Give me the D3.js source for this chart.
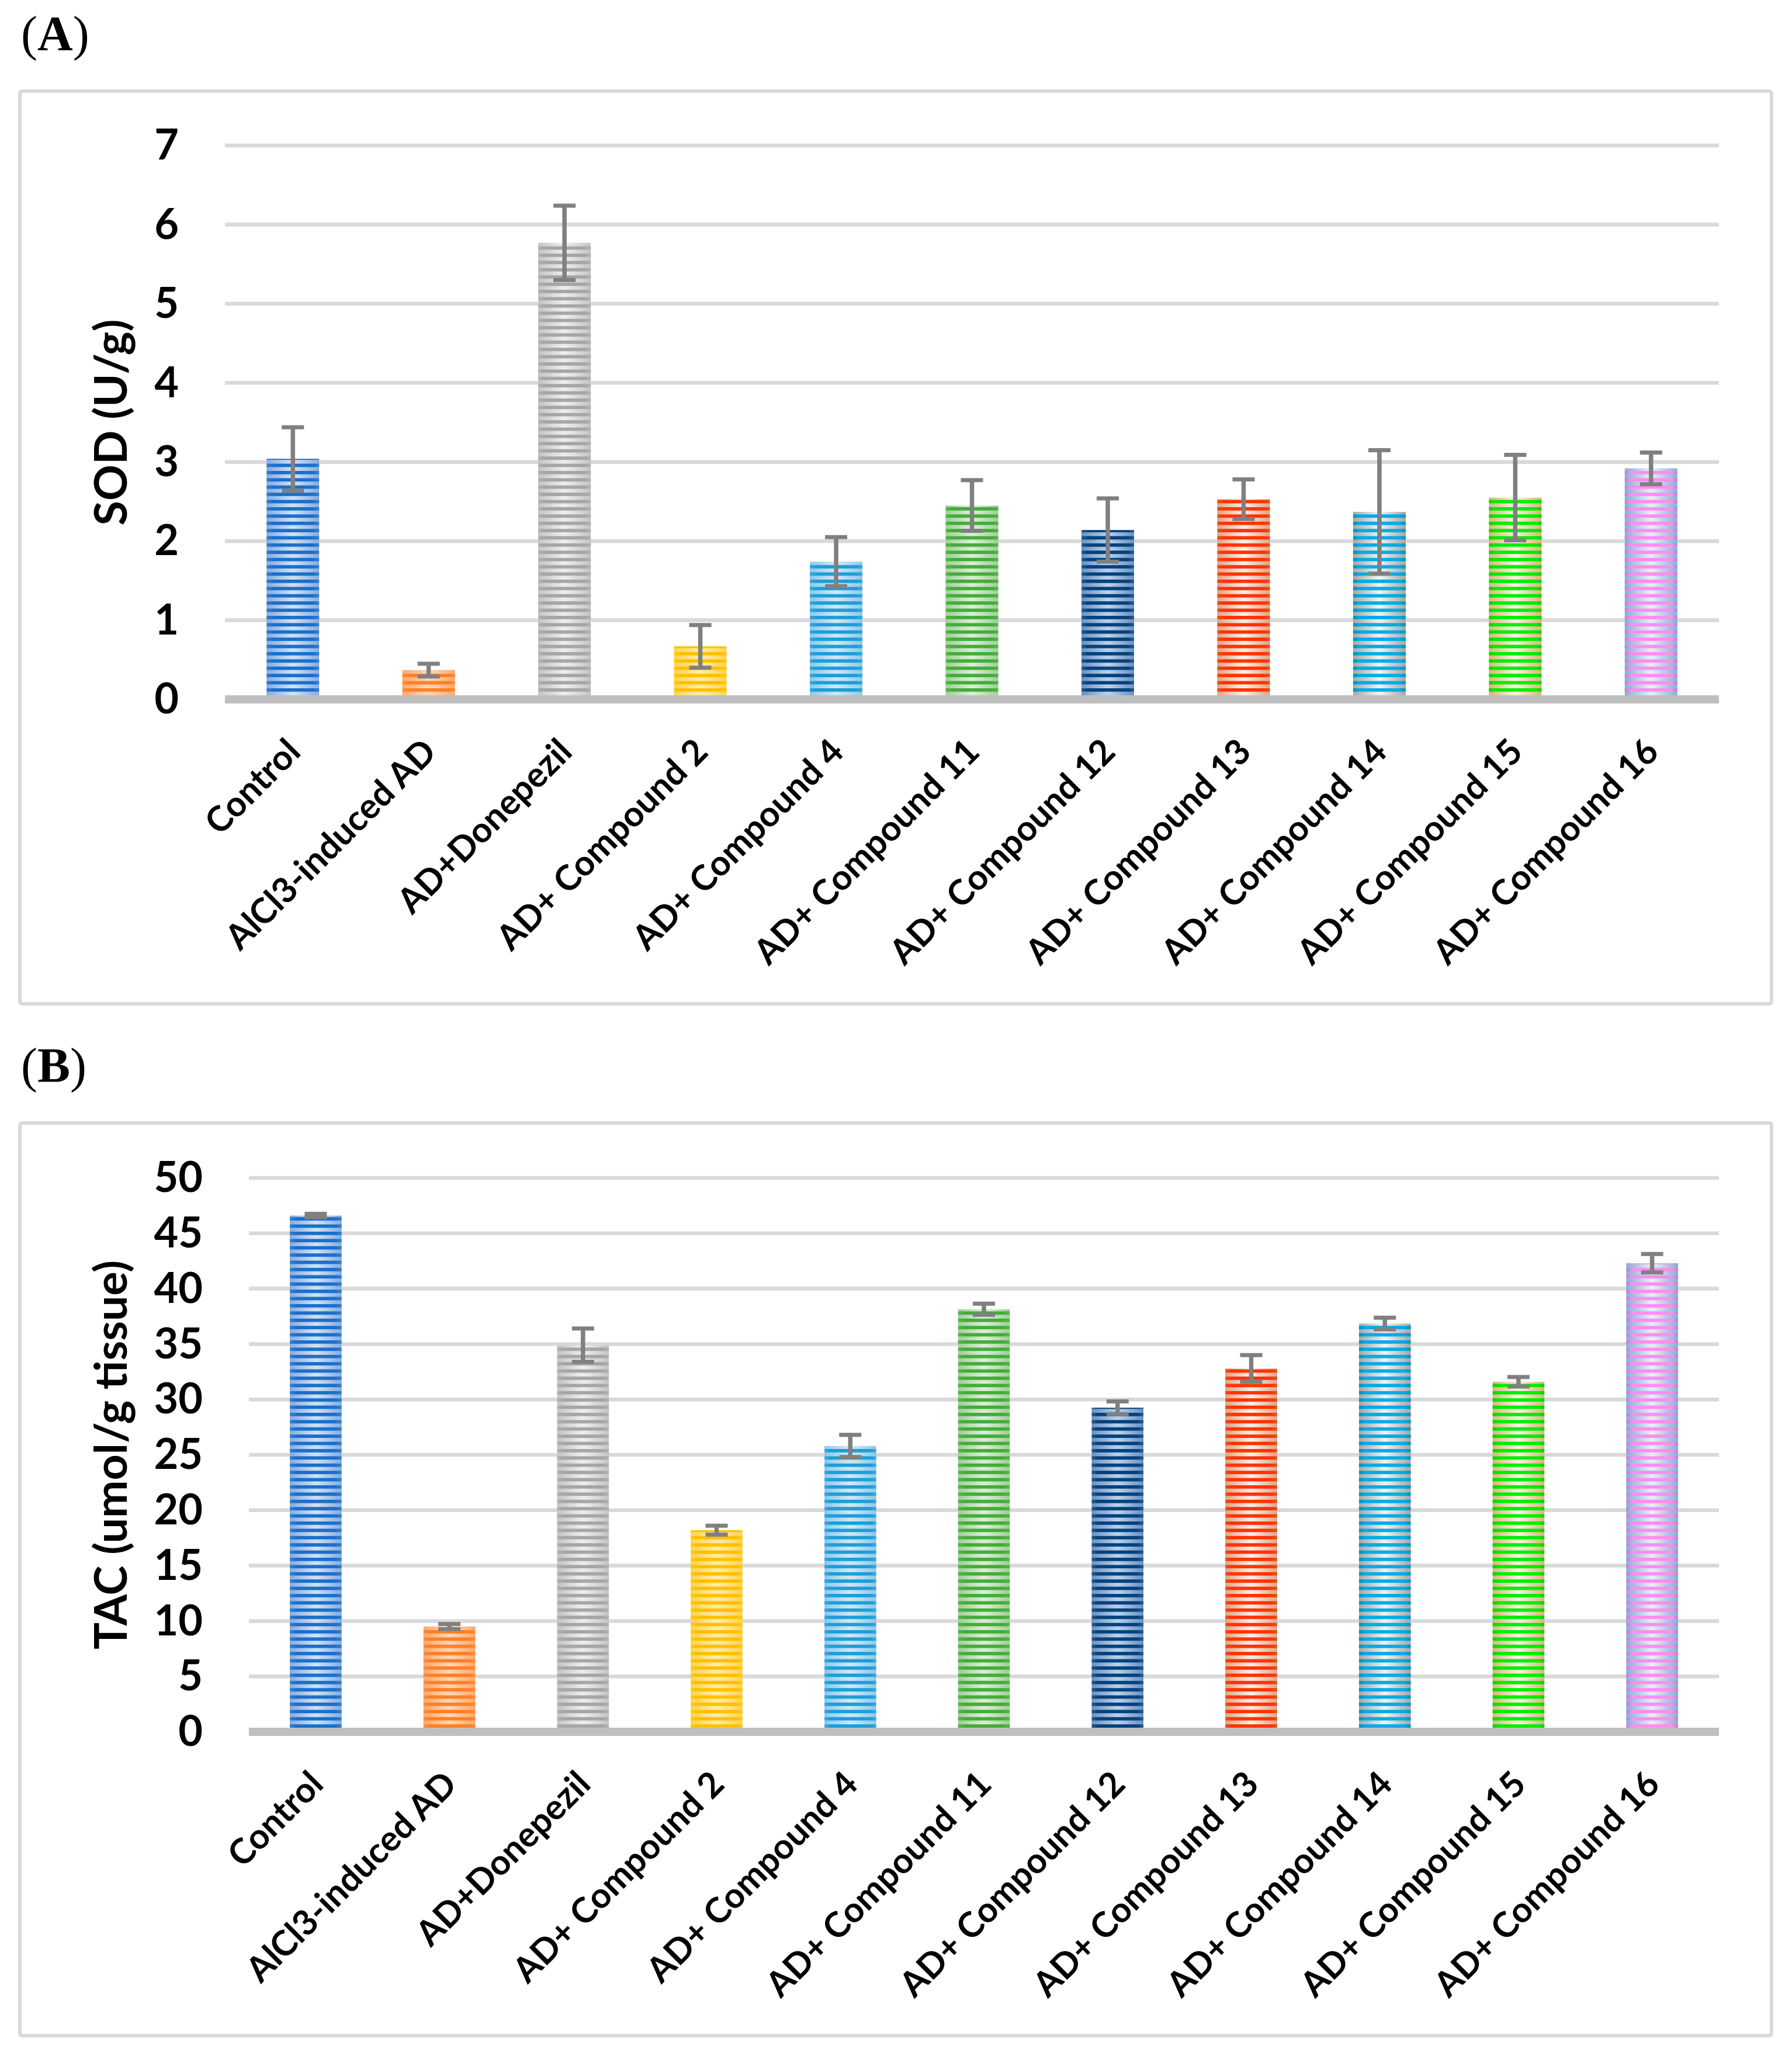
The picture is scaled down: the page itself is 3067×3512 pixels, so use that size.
<!DOCTYPE html>
<html>
<head>
<meta charset="utf-8">
<script src="https://cdn.jsdelivr.net/npm/d3@7.9.0/dist/d3.min.js"></script>
<style>
  body { margin: 0; background: #fff; }
  svg { display: block; }
  .tick text, .lbl, .ytitle { font-family: Lato, "Open Sans", sans-serif; font-weight: 700; fill: #000; }
</style>
</head>
<body>
<svg id="chart"></svg>
<script>
// group names along the x axis (same for both panels)
const groups = [
  "Control", "AlCl3-induced AD", "AD+Donepezil", "AD+ Compound 2", "AD+ Compound 4",
  "AD+ Compound 11", "AD+ Compound 12", "AD+ Compound 13", "AD+ Compound 14",
  "AD+ Compound 15", "AD+ Compound 16"
];

// panel A: SOD (U/g)
const sodValues = [3.04, 0.37, 5.77, 0.67, 1.74, 2.45, 2.14, 2.53, 2.37, 2.55, 2.92];
const sodErrors = [0.40, 0.08, 0.47, 0.27, 0.31, 0.32, 0.40, 0.25, 0.78, 0.54, 0.20];
const sodTicks = [0, 1, 2, 3, 4, 5, 6, 7];

// panel B: TAC (umol/g tissue)
const tacValues = [46.6, 9.5, 34.9, 18.2, 25.8, 38.15, 29.25, 32.8, 36.85, 31.6, 42.3];
const tacErrors = [0.15, 0.23, 1.5, 0.4, 1.0, 0.5, 0.57, 1.2, 0.53, 0.43, 0.83];
const tacTicks = [0, 5, 10, 15, 20, 25, 30, 35, 40, 45, 50];

// striped fill colours per bar: dark stripe, its edge, light stripe centre, light stripe edge
const darkColors = ["#1a6fca", "#ff7f27", "#a6a6a6", "#ffc000", "#1c9ed8", "#46ab3c",
                    "#00427e", "#ff3300", "#00ace6", "#00ee00", "#ff8df0"];
const darkEdges  = ["#3a80cc", "#ff8c3c", "#b2b2b2", "#ffc61a", "#3ba8da", "#5ab350",
                    "#2a5b92", "#e8501e", "#0090b8", "#10cc10", "#b088d8"];
const lightCenters = ["#d3e2f4", "#ffd8bb", "#efefef", "#ffecad", "#d2e9f6", "#dcefd8",
                      "#bcd2ec", "#fcf1eb", "#f3f3f3", "#f9f3e6", "#eaf0f8"];
const lightEdges   = ["#86ace0", "#ffa86a", "#c4c4c4", "#ffd452", "#8ec8ea", "#9ed096",
                      "#6c90c0", "#dfa486", "#a6a6a6", "#d6b774", "#86b0d2"];

const W = 3067, H = 3512;
const svg = d3.select("#chart").attr("width", W).attr("height", H);
svg.append("rect").attr("width", W).attr("height", H).attr("fill", "#fff");

const defs = svg.append("defs");
darkColors.forEach((c, i) => {
  let g = defs.append("linearGradient").attr("id", "dg" + i);
  g.append("stop").attr("offset", 0).attr("stop-color", darkEdges[i]);
  g.append("stop").attr("offset", 0.12).attr("stop-color", c);
  g.append("stop").attr("offset", 0.88).attr("stop-color", c);
  g.append("stop").attr("offset", 1).attr("stop-color", darkEdges[i]);
  let l = defs.append("linearGradient").attr("id", "lg" + i);
  l.append("stop").attr("offset", 0).attr("stop-color", lightEdges[i]);
  l.append("stop").attr("offset", 0.5).attr("stop-color", lightCenters[i]);
  l.append("stop").attr("offset", 1).attr("stop-color", lightEdges[i]);
});
const pat = defs.append("pattern").attr("id", "stripes")
  .attr("patternUnits", "userSpaceOnUse").attr("width", W).attr("height", 12.4);
pat.append("rect").attr("width", W).attr("height", 5.8).attr("fill", "#fff");
defs.append("mask").attr("id", "stripeMask").attr("maskUnits", "userSpaceOnUse")
  .attr("x", 0).attr("y", 0).attr("width", W).attr("height", H)
  .append("rect").attr("width", W).attr("height", H).attr("fill", "url(#stripes)");

function drawPanel(p) {
  let g = svg.append("g");

  // panel letter
  let t = g.append("text").attr("x", 36).attr("y", p.letterY)
    .attr("font-family", "'Liberation Serif', 'Times New Roman', serif").attr("font-size", 84);
  t.append("tspan").text("(");
  t.append("tspan").attr("font-weight", 700).text(p.letter);
  t.append("tspan").text(")");

  // chart frame
  g.append("rect").attr("x", 34).attr("y", p.frameY).attr("width", 2998).attr("height", 1562)
    .attr("rx", 4).attr("fill", "none").attr("stroke", "#d9d9d9").attr("stroke-width", 6);

  let x = d3.scaleBand().domain(groups).range([p.left, 2942])
    .paddingInner(0.613).paddingOuter(0.3065);
  let y = d3.scaleLinear().domain([0, p.max]).range([p.zeroY, p.topY]);

  // gridlines
  g.selectAll(".grid").data(p.ticks.filter((d) => d > 0)).join("line")
    .attr("x1", p.left).attr("x2", 2942)
    .attr("y1", (d) => y(d)).attr("y2", (d) => y(d))
    .attr("stroke", "#d9d9d9").attr("stroke-width", 6.5);

  // bars: light gradient base + masked dark stripes
  groups.forEach((name, i) => {
    let bx = x(name), bw = x.bandwidth(), by = y(p.values[i]), bh = p.zeroY - by;
    g.append("rect").attr("x", bx).attr("y", by).attr("width", bw).attr("height", bh)
      .attr("fill", `url(#lg${i})`);
    g.append("rect").attr("x", bx).attr("y", by).attr("width", bw).attr("height", bh)
      .attr("fill", `url(#dg${i})`).attr("mask", "url(#stripeMask)");
  });

  // horizontal axis line
  g.append("line").attr("x1", p.left).attr("x2", 2942)
    .attr("y1", p.zeroY).attr("y2", p.zeroY)
    .attr("stroke", "#bfbfbf").attr("stroke-width", 14);

  // error bars
  groups.forEach((name, i) => {
    let cx = x(name) + x.bandwidth() / 2;
    let hi = y(p.values[i] + p.errors[i]), lo = y(p.values[i] - p.errors[i]);
    g.append("line").attr("x1", cx).attr("x2", cx).attr("y1", hi).attr("y2", lo)
      .attr("stroke", "#808080").attr("stroke-width", 7.5);
    [hi, lo].forEach((yy) => {
      g.append("line").attr("x1", cx - 19).attr("x2", cx + 19).attr("y1", yy).attr("y2", yy)
        .attr("stroke", "#808080").attr("stroke-width", 7);
    });
  });

  // y tick labels
  let yAxis = g.append("g").attr("transform", `translate(${p.left},0)`)
    .call(d3.axisLeft(y).tickValues(p.ticks).tickFormat(d3.format("d")).tickSize(0).tickPadding(79));
  yAxis.select(".domain").remove();
  yAxis.selectAll("text").attr("font-size", 72).attr("dy", "0.33em");

  // y title
  g.append("text").attr("class", "ytitle")
    .attr("transform", `translate(217,${(p.zeroY + p.topY) / 2}) rotate(-90)`)
    .attr("text-anchor", "middle").attr("font-size", 77).text(p.title);

  // x labels
  g.selectAll(".lbl").data(groups).join("text").attr("class", "lbl")
    .attr("transform", (d) => `translate(${x(d) + x.bandwidth() / 2},${p.zeroY + 77}) rotate(-45)`)
    .attr("text-anchor", "end").attr("dominant-baseline", "central")
    .attr("font-size", 60).text((d) => d);
}

drawPanel({
  letter: "A", letterY: 86, frameY: 156, left: 385, topY: 249, zeroY: 1197, max: 7,
  ticks: sodTicks, values: sodValues, errors: sodErrors, title: "SOD (U/g)"
});
drawPanel({
  letter: "B", letterY: 1852, frameY: 1922, left: 426, topY: 2016, zeroY: 2964, max: 50,
  ticks: tacTicks, values: tacValues, errors: tacErrors, title: "TAC (umol/g tissue)"
});
</script>
</body>
</html>
